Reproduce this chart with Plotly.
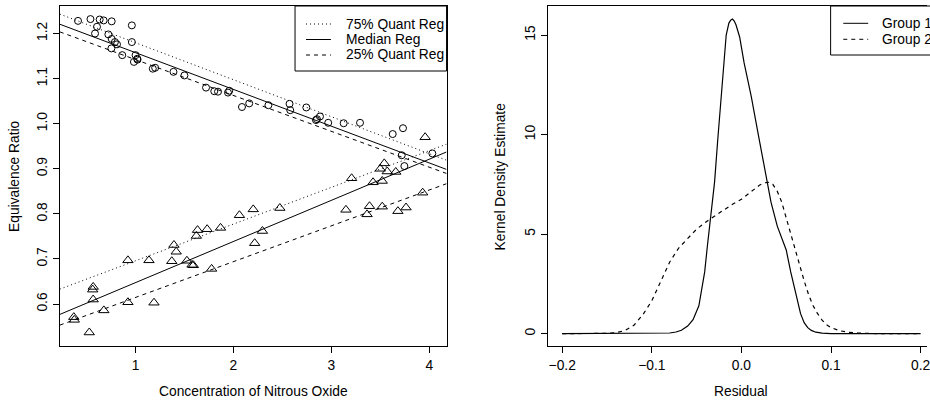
import plotly.graph_objects as go

# ---------------- data ----------------
circ_x = [0.412, 0.539, 0.633, 0.674, 0.756, 0.606, 0.586, 0.962, 0.722, 0.756,
          0.789, 0.810, 0.753, 0.962, 0.864, 1.000, 1.017, 0.983, 1.020, 1.176,
          1.200, 1.387, 1.499, 1.720, 1.804, 1.842, 1.944, 1.957, 2.087, 2.161,
          2.357, 2.573, 2.580, 2.744, 2.843, 2.853, 2.884, 2.968, 3.126, 3.293,
          3.627, 3.732, 3.719, 3.746, 4.032]
circ_y = [1.228, 1.232, 1.231, 1.229, 1.227, 1.215, 1.200, 1.218, 1.198, 1.188,
          1.181, 1.176, 1.167, 1.181, 1.152, 1.152, 1.144, 1.137, 1.142, 1.122,
          1.124, 1.115, 1.107, 1.080, 1.072, 1.071, 1.069, 1.073, 1.037, 1.045,
          1.041, 1.044, 1.030, 1.036, 1.008, 1.010, 1.016, 1.002, 1.001, 1.002,
          0.977, 0.990, 0.930, 0.906, 0.934]

tri_x = [0.369, 0.374, 0.527, 0.567, 0.562, 0.567, 0.676, 0.922, 0.922, 1.137,
         1.188, 1.370, 1.392, 1.415, 1.524, 1.577, 1.591, 1.621, 1.633, 1.731,
         1.777, 1.868, 2.061, 2.202, 2.217, 2.296, 2.474, 3.149, 3.207, 3.365,
         3.390, 3.426, 3.520, 3.520, 3.500, 3.541, 3.571, 3.658, 3.680, 3.763,
         3.933, 3.958]
tri_y = [0.571, 0.565, 0.537, 0.638, 0.632, 0.610, 0.586, 0.697, 0.604, 0.697,
         0.603, 0.695, 0.731, 0.716, 0.696, 0.687, 0.686, 0.751, 0.764, 0.766,
         0.678, 0.769, 0.797, 0.810, 0.735, 0.762, 0.813, 0.809, 0.879, 0.799,
         0.817, 0.870, 0.873, 0.816, 0.900, 0.912, 0.894, 0.893, 0.806, 0.814,
         0.847, 0.970]

# quantile regression fits: 75%, median, 25%
q_labels = ["75% Quant Reg", "Median Reg", "25% Quant Reg"]
circ_int = [1.2615, 1.2390, 1.2216]
circ_slope = [-0.0820, -0.0815, -0.0795]
tri_int = [0.6146, 0.5564, 0.5353]
tri_slope = [0.0814, 0.0912, 0.0794]

# kernel density estimates of residuals
g1_x = [-0.2, -0.1, -0.09, -0.08, -0.073, -0.067, -0.06, -0.054, -0.0475, -0.044,
        -0.041, -0.038, -0.0345, -0.03, -0.0265, -0.0227, -0.0197, -0.017, -0.014,
        -0.012, -0.01, -0.008, -0.006, -0.002, 0.003, 0.011, 0.018, 0.024, 0.029,
        0.033, 0.04, 0.045, 0.05, 0.055, 0.061, 0.066, 0.07, 0.074, 0.078, 0.083,
        0.09, 0.1, 0.2]
g1_y = [0, 0, 0.01, 0.03, 0.08, 0.17, 0.38, 0.7, 1.4, 2.3,
        3.1, 4.4, 5.8, 7.6, 9.7, 11.7, 13.7, 15.0, 15.6,
        15.75, 15.8, 15.7, 15.5, 14.9, 13.6, 11.9, 10.2, 8.7, 7.5,
        6.6, 5.4, 4.8, 4.2, 3.1, 2.0, 1.0, 0.55, 0.3, 0.16, 0.07,
        0.02, 0, 0]
g2_x = [-0.2, -0.16, -0.15, -0.14, -0.13, -0.12, -0.11, -0.1, -0.09, -0.08,
        -0.07, -0.06, -0.05, -0.04, -0.03, -0.02, -0.01, 0.0, 0.01, 0.02,
        0.025, 0.03, 0.035, 0.04, 0.045, 0.05, 0.055, 0.06, 0.065, 0.07,
        0.075, 0.08, 0.085, 0.09, 0.095, 0.1, 0.11, 0.12, 0.13, 0.14, 0.15, 0.2]
g2_y = [0, 0, 0.01, 0.05, 0.15, 0.42, 0.95, 1.65, 2.65, 3.6,
        4.3, 4.8, 5.25, 5.6, 5.9, 6.2, 6.5, 6.75, 7.1, 7.45,
        7.57, 7.6, 7.5, 7.15, 6.6, 5.8, 5.0, 4.2, 3.4, 2.65,
        1.95, 1.4, 1.0, 0.68, 0.45, 0.3, 0.14, 0.06, 0.03, 0.01, 0, 0]
g_labels = ["Group 1", "Group 2"]

x_ticks_left = [1, 2, 3, 4]
y_ticks_left = [0.6, 0.7, 0.8, 0.9, 1.0, 1.1, 1.2]
x_ticks_right = [-0.2, -0.1, 0.0, 0.1, 0.2]
x_tick_text_right = ["\u22120.2", "\u22120.1", "0.0", "0.1", "0.2"]
y_ticks_right = [0, 5, 10, 15]

# ---------------- styling ----------------
W, H = 930, 400
FONT = "Liberation Sans, Arial, Helvetica, sans-serif"
FS = 13.8
DOT = "1px,3px"
DASH = "4px,4px"
q_dash = [DOT, "solid", DASH]
g_dash = ["solid", DASH]

xl_range = [0.226, 4.177]
yl_range = [0.507, 1.261]
xr_range = [-0.2164, 0.2071]
yr_range = [-0.623, 16.458]

def px(x):
    return x / W

def py(y):
    return 1 - y / H

fig = go.Figure()

fig.add_trace(go.Scatter(x=circ_x, y=circ_y, mode="markers",
                         marker=dict(symbol="circle-open", size=7, color="black",
                                     line=dict(width=1, color="black")),
                         xaxis="x", yaxis="y", hoverinfo="skip"))
fig.add_trace(go.Scatter(x=tri_x, y=tri_y, mode="markers",
                         marker=dict(symbol="triangle-up-open", size=9, color="black",
                                     line=dict(width=1, color="black")),
                         xaxis="x", yaxis="y", hoverinfo="skip"))

for a, b, d in zip(circ_int, circ_slope, q_dash):
    fig.add_trace(go.Scatter(x=xl_range, y=[a + b * xl_range[0], a + b * xl_range[1]],
                             mode="lines", line=dict(color="black", width=1, dash=d),
                             xaxis="x", yaxis="y", hoverinfo="skip"))
for a, b, d in zip(tri_int, tri_slope, q_dash):
    fig.add_trace(go.Scatter(x=xl_range, y=[a + b * xl_range[0], a + b * xl_range[1]],
                             mode="lines", line=dict(color="black", width=1, dash=d),
                             xaxis="x", yaxis="y", hoverinfo="skip"))

fig.add_trace(go.Scatter(x=g1_x, y=g1_y, mode="lines",
                         line=dict(color="black", width=1.2, dash=g_dash[0]),
                         xaxis="x2", yaxis="y2", hoverinfo="skip"))
fig.add_trace(go.Scatter(x=g2_x, y=g2_y, mode="lines",
                         line=dict(color="black", width=1.2, dash=g_dash[1]),
                         xaxis="x2", yaxis="y2", hoverinfo="skip"))

axis_common = dict(showgrid=False, zeroline=False, showline=True, linecolor="black",
                   linewidth=1, ticks="outside", ticklen=6, tickwidth=1,
                   tickcolor="black", ticklabeloverflow="allow",
                   tickfont=dict(family=FONT, size=FS, color="black"))

ydom = [py(346), py(6)]
fig.update_layout(
    width=W, height=H, margin=dict(l=0, r=0, t=0, b=0),
    paper_bgcolor="white", plot_bgcolor="white", showlegend=False,
    xaxis=dict(domain=[px(60), px(448)], range=xl_range, tickvals=x_ticks_left,
               mirror=True, anchor="y", **axis_common),
    yaxis=dict(domain=ydom, range=yl_range, tickvals=y_ticks_left,
               ticktext=[f"{v:.1f}" for v in y_ticks_left], tickangle=-90,
               mirror=True, anchor="x", **axis_common),
    xaxis2=dict(domain=[px(549.3), 1.0], range=xr_range, tickvals=x_ticks_right,
                ticktext=x_tick_text_right, mirror=True, anchor="y2", **axis_common),
    yaxis2=dict(domain=ydom, range=yr_range, tickvals=y_ticks_right, tickangle=-90,
                mirror=False, anchor="x2", **axis_common),
)

def title_ann(text, x, y, angle=0):
    return dict(text=text, x=px(x), y=py(y), textangle=angle,
                xanchor="center", yanchor="middle",
                xref="paper", yref="paper", showarrow=False,
                font=dict(family=FONT, size=FS, color="black"))

ann = [
    title_ann("Concentration of Nitrous Oxide", 254, 391.5),
    title_ann("Equivalence Ratio", 15, 176, -90),
    title_ann("Residual", 743.7, 391.5),
    title_ann("Kernel Density Estimate", 503, 176, -90),
]

shapes = []
# left legend
shapes.append(dict(type="rect", xref="paper", yref="paper", x0=px(296), x1=px(448),
                   y0=py(71), y1=py(6), line=dict(color="black", width=1),
                   fillcolor="white", layer="above"))
for i, (lab, d) in enumerate(zip(q_labels, q_dash)):
    yy = [24, 39.5, 55][i]
    shapes.append(dict(type="line", xref="paper", yref="paper", x0=px(307), x1=px(332),
                       y0=py(yy), y1=py(yy), line=dict(color="black", width=1, dash=d),
                       layer="above"))
    ann.append(dict(text=lab, x=px(345), y=py(yy), xanchor="left", yanchor="middle",
                    xref="paper", yref="paper", showarrow=False,
                    font=dict(family=FONT, size=FS, color="black")))
# right legend (its right part is cut off by the page edge, as in the reference)
shapes.append(dict(type="rect", xref="paper", yref="paper", x0=px(833.3), x1=px(960),
                   y0=py(55), y1=py(6), line=dict(color="black", width=1),
                   fillcolor="white", layer="above"))
for i, (lab, d) in enumerate(zip(g_labels, g_dash)):
    yy = [23.3, 39.3][i]
    shapes.append(dict(type="line", xref="paper", yref="paper", x0=px(846), x1=px(871),
                       y0=py(yy), y1=py(yy), line=dict(color="black", width=1, dash=d),
                       layer="above"))
    ann.append(dict(text=lab, x=px(882.7), y=py(yy), xanchor="left", yanchor="middle",
                    xref="paper", yref="paper", showarrow=False,
                    font=dict(family=FONT, size=FS, color="black")))

fig.update_layout(annotations=ann, shapes=shapes)
fig.write_html("out.html")
